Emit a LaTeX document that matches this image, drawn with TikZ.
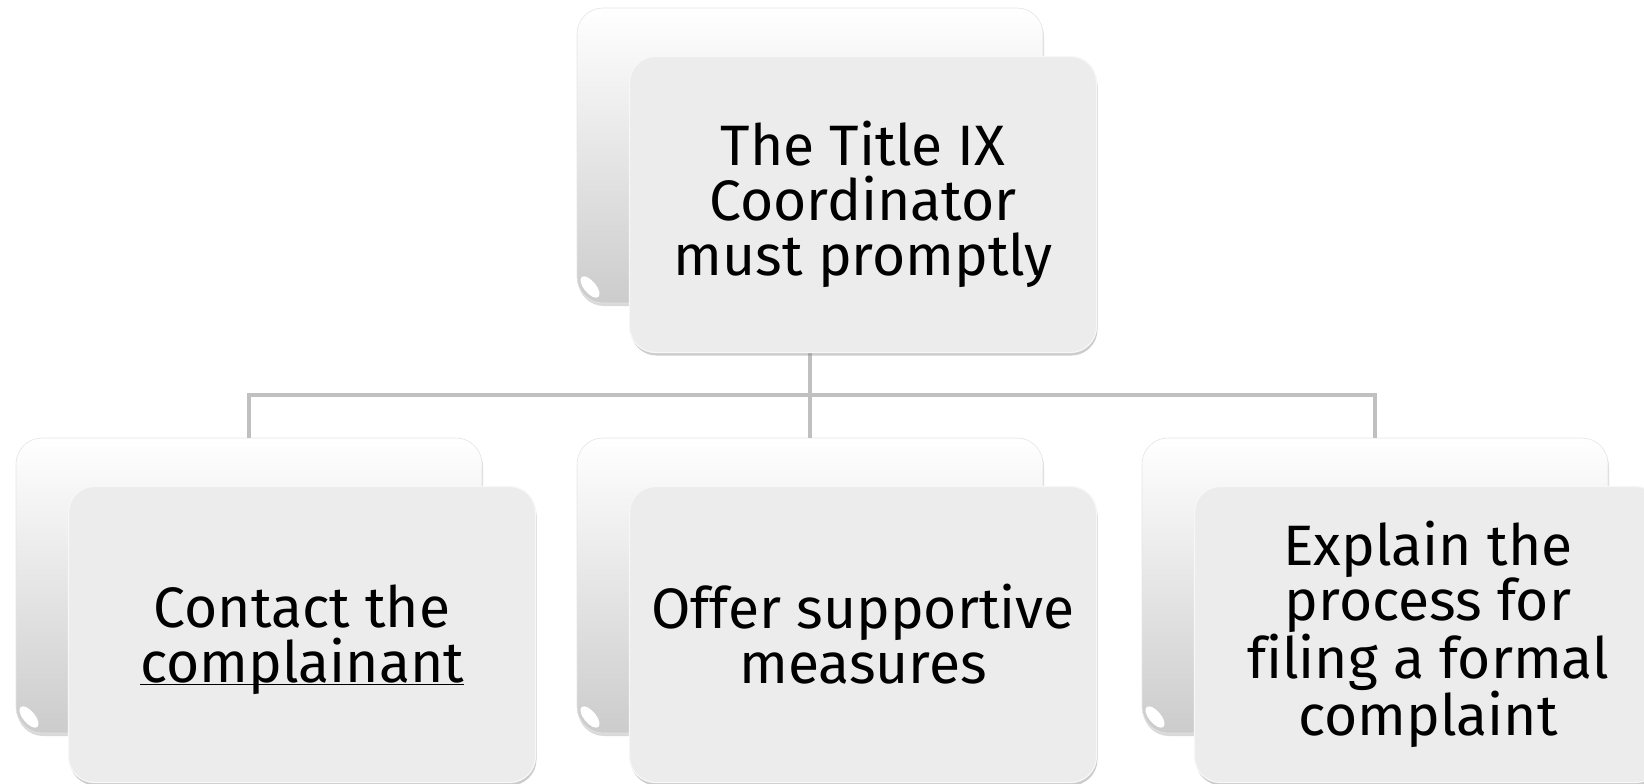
\documentclass[tikz,border=0pt]{standalone}
\usepackage{fontspec}
\setmainfont[Ligatures=NoCommon]{Fira Sans}
\usetikzlibrary{positioning,shadows,calc}

\definecolor{cardgray}{RGB}{236,236,236}
\definecolor{linkgray}{RGB}{192,192,192}

\begin{document}
\begin{tikzpicture}[x=1pt,y=-1pt,
  backcard/.style={rounded corners=26pt,minimum width=466pt,minimum height=295pt,
    top color=white,bottom color=gray!40,draw=white!90!black,line width=.6pt,
    drop shadow={shadow xshift=1pt,shadow yshift=-3pt,opacity=.3},
    path picture={\fill[white] ([shift={(13pt,16pt)}]path picture bounding box.south west)
      circle[x radius=13pt,y radius=6pt,rotate=-50];}},
  frontcard/.style={rounded corners=26pt,minimum width=467pt,minimum height=296pt,
    fill=cardgray,draw=white!97!black,line width=1.2pt,
    drop shadow={shadow xshift=1pt,shadow yshift=-3pt,opacity=.4},
    align=center,font=\fontsize{57}{55}\selectfont},
  link/.style={line width=4pt,draw=linkgray}]
\useasboundingbox (0,0) rectangle (1644,784);
% back cards
\node[backcard] (topback) at (810,155.5) {};
\foreach \n/\cx in {cl/249,cm/810,cr/1375}
  \node[backcard] (\n back) at (\cx,585.5) {};
% tree lines
\draw[link] (topback.south) -- ++(0,92) -| (clback.north);
\draw[link] (topback.south) -- ++(0,92) -| (crback.north);
\draw[link] (topback.south) -- (cmback.north);
% front cards
\node[frontcard] (top) at ([shift={(53,49)}]topback.center) {The Title IX\\Coordinator\\must promptly};
\node[frontcard] (cl) at ([shift={(53,49)}]clback.center) {Contact the\\\underline{\smash{complainant}}};
\node[frontcard] (cm) at ([shift={(53,49)}]cmback.center) {Offer supportive\\measures};
\node[frontcard] (cr) at ([shift={(53,49)}]crback.center) {Explain the\\process for\\filing a formal\\complaint};
\end{tikzpicture}
\end{document}
